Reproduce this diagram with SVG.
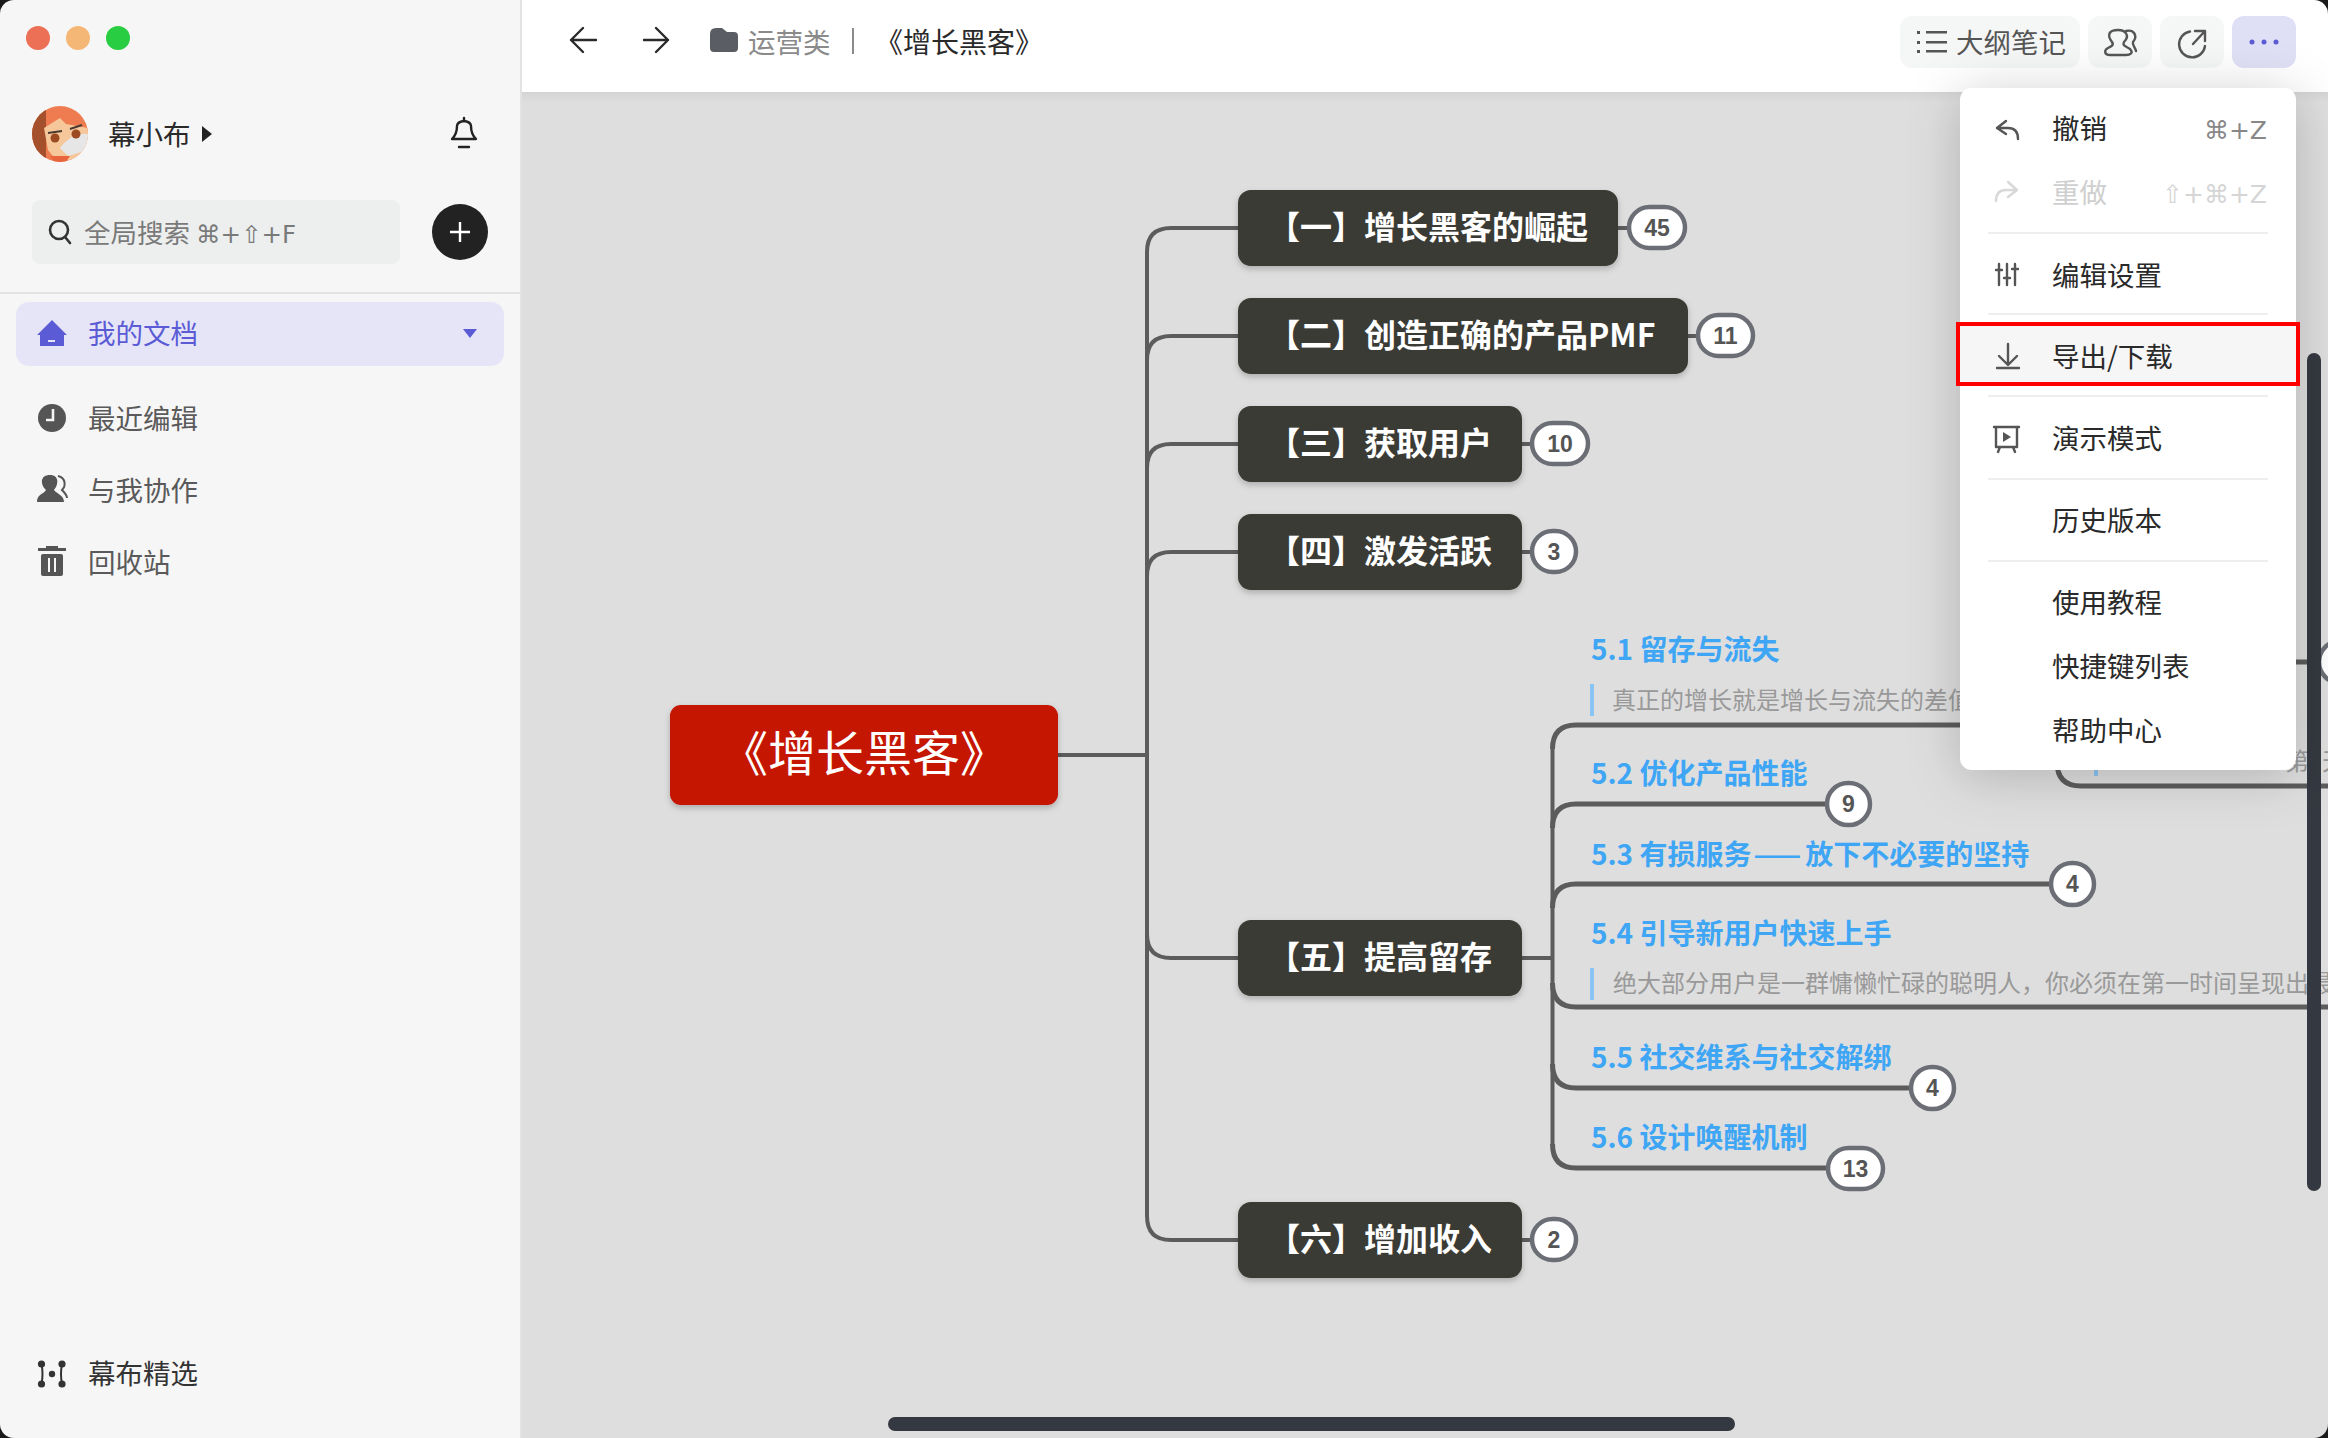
<svg xmlns="http://www.w3.org/2000/svg" width="2328" height="1438" viewBox="0 0 2328 1438">
<style>
text{font-family:"Noto Sans CJK SC","Liberation Sans",sans-serif}
.sym{font-family:"DejaVu Sans","Noto Sans CJK SC",sans-serif}
.side{font-size:27.5px;fill:#5a5a5a}
.ico{fill:#555}
.line{fill:none;stroke:#5c5c5c;stroke-width:4}
.line2{fill:none;stroke:#5c5c5c;stroke-width:5}
.node rect.box{fill:#3a3a34}
.node text.t{font-size:32px;font-weight:700;fill:#fff}
.pill{fill:#fff;stroke:#6b6e75;stroke-width:4.5}
.num{font-size:23px;font-weight:700;fill:#555;text-anchor:middle;font-family:"Liberation Sans",sans-serif}
.sub{font-size:28px;font-weight:700;fill:#3ea6f5}
.note{font-size:24px;fill:#999}
.bar{fill:#8cc4f5}
.m{font-size:27.5px;fill:#2a2a2a}
.div{fill:#eeeeee}
.btn{fill:#f5f6f6}
.thin{fill:none;stroke:#555;stroke-width:2.4;stroke-linecap:round;stroke-linejoin:round}
.sb{fill:#343840}
</style>
<defs>
<clipPath id="win"><rect width="2328" height="1438" rx="14"/></clipPath>
<clipPath id="av"><circle cx="60" cy="134" r="28"/></clipPath>
<filter id="ns" x="-10%" y="-20%" width="120%" height="150%"><feDropShadow dx="0" dy="3" stdDeviation="3" flood-color="#000" flood-opacity=".22"/></filter>
<filter id="ms" x="-30%" y="-20%" width="160%" height="150%"><feDropShadow dx="0" dy="6" stdDeviation="26" flood-color="#000" flood-opacity=".2"/></filter>
<linearGradient id="tb" x1="0" y1="0" x2="0" y2="1"><stop offset="0" stop-color="#d4d4d4"/><stop offset="1" stop-color="#dedede"/></linearGradient>
</defs>
<rect width="2328" height="1438" fill="#1a1a1a"/>
<g clip-path="url(#win)">
<rect x="521" y="92" width="1807" height="1346" fill="#dedede"/>
<rect x="521" y="92" width="1807" height="10" fill="url(#tb)"/>

<g id="connectors">
<path class="line" d="M1058 755H1147"/>
<path class="line" d="M1147 1216V252Q1147 228 1171 228H1238"/>
<path class="line" d="M1147 360Q1147 336 1171 336H1238"/>
<path class="line" d="M1147 468Q1147 444 1171 444H1238"/>
<path class="line" d="M1147 576Q1147 552 1171 552H1238"/>
<path class="line" d="M1147 934Q1147 958 1171 958H1238"/>
<path class="line" d="M1147 1216Q1147 1240 1171 1240H1238"/>
<path class="line" d="M1617 228H1630M1687 336H1699M1521 444H1533M1521 552H1533M1521 958H1552M1521 1240H1533"/>
<path class="line" d="M1552.500 1144V749"/>
<path class="line2" d="M1552.500 749Q1552.500 725 1576 725H2100"/>
<path class="line2" d="M1552.500 828Q1552.500 804 1576 804H1827"/>
<path class="line2" d="M1552.500 908Q1552.500 884 1576 884H2052"/>
<path class="line2" d="M1552.500 983Q1552.500 1007 1576 1007H2328"/>
<path class="line2" d="M1552.500 1064Q1552.500 1088 1576 1088H1912"/>
<path class="line2" d="M1552.500 1144Q1552.500 1168 1576 1168H1829"/>
<path class="line2" d="M2057 700V762Q2057 786 2081 786H2328"/>
<path class="line2" d="M2057 686Q2057 662 2081 662H2312"/>
</g>

<g id="root"><rect x="670" y="705" width="388" height="100" rx="11" fill="#c41200" filter="url(#ns)"/><text x="864" y="771" font-size="48" fill="#fff" text-anchor="middle">《增长黑客》</text></g>

<g id="n1" class="node"><rect class="box" x="1238" y="190" width="380" height="76" rx="13" filter="url(#ns)"/><text class="t" x="1268" y="239">【一】增长黑客的崛起</text></g>
<g id="n1b"><rect class="pill" x="1629" y="207" width="56" height="41" rx="20.5"/><text class="num" x="1657" y="236">45</text></g>
<g id="n2" class="node"><rect class="box" x="1238" y="298" width="450" height="76" rx="13" filter="url(#ns)"/><text class="t" x="1268" y="347">【二】创造正确的产品PMF</text></g>
<g id="n2b"><rect class="pill" x="1698" y="315" width="55" height="41" rx="20.5"/><text class="num" x="1725.500" y="344">11</text></g>
<g id="n3" class="node"><rect class="box" x="1238" y="406" width="284" height="76" rx="13" filter="url(#ns)"/><text class="t" x="1268" y="455">【三】获取用户</text></g>
<g id="n3b"><rect class="pill" x="1532" y="423" width="56" height="41" rx="20.5"/><text class="num" x="1560" y="452">10</text></g>
<g id="n4" class="node"><rect class="box" x="1238" y="514" width="284" height="76" rx="13" filter="url(#ns)"/><text class="t" x="1268" y="563">【四】激发活跃</text></g>
<g id="n4b"><rect class="pill" x="1532" y="531" width="44" height="41" rx="20.5"/><text class="num" x="1554" y="560">3</text></g>
<g id="n5" class="node"><rect class="box" x="1238" y="920" width="284" height="76" rx="13" filter="url(#ns)"/><text class="t" x="1268" y="969">【五】提高留存</text></g>
<g id="n6" class="node"><rect class="box" x="1238" y="1202" width="284" height="76" rx="13" filter="url(#ns)"/><text class="t" x="1268" y="1251">【六】增加收入</text></g>
<g id="n6b"><rect class="pill" x="1532" y="1219" width="44" height="41" rx="20.5"/><text class="num" x="1554" y="1248">2</text></g>

<g id="s51"><text class="sub" x="1591" y="660">5.1 留存与流失</text><rect class="bar" x="1590" y="684" width="4" height="32"/><text class="note" x="1612" y="709">真正的增长就是增长与流失的差值</text></g>
<g id="s51c"><rect class="bar" x="2094" y="760" width="4" height="16"/><text class="note" x="2285" y="770">第</text><text class="note" x="2322" y="770">天</text></g>
<g id="s52"><text class="sub" x="1591" y="784">5.2 优化产品性能</text><rect class="pill" x="1827" y="783" width="43" height="42" rx="21"/><text class="num" x="1848.500" y="812">9</text></g>
<g id="s53"><text class="sub" x="1591" y="865">5.3 有损服务<tspan dx="2">—</tspan><tspan dx="4">—</tspan><tspan dx="0">放下不必要的坚持</tspan></text><rect class="pill" x="2051" y="863" width="43" height="42" rx="21"/><text class="num" x="2072.500" y="892">4</text></g>
<g id="s54"><text class="sub" x="1591" y="944">5.4 引导新用户快速上手</text><rect class="bar" x="1590" y="968" width="4" height="32"/><text class="note" x="1613" y="992">绝大部分用户是一群慵懒忙碌的聪明人，你必须在第一时间呈现出最</text></g>
<g id="s55"><text class="sub" x="1591" y="1068">5.5 社交维系与社交解绑</text><rect class="pill" x="1911" y="1067" width="43" height="42" rx="21"/><text class="num" x="1932.500" y="1096">4</text></g>
<g id="s56"><text class="sub" x="1591" y="1148">5.6 设计唤醒机制</text><rect class="pill" x="1828" y="1148" width="55" height="41" rx="20.5"/><text class="num" x="1855.500" y="1177">13</text></g>
<g id="s51b"><circle cx="2340" cy="662" r="21" class="pill"/></g>

<rect x="521" y="0" width="1807" height="92" fill="#fff"/>
<g id="toolbar">
<path class="thin" style="stroke:#2a2a2a" d="M596 40H571M583 28L571 40L583 52M644 40H668M656 28L668 40L656 52"/>
<path d="M710 34Q710 28 716 28H722L727 32H734Q738 32 738 36V48Q738 52 734 52H714Q710 52 710 48Z" fill="#5a5d64"/>
<text x="748" y="53" font-size="27.5" fill="#8a8a8a">运营类</text>
<rect x="852" y="28" width="2" height="26" fill="#8a8a8a"/>
<text x="875" y="53" font-size="28" fill="#2a2a2a">《增长黑客》</text>
<rect class="btn" x="1900" y="16" width="180" height="52" rx="12"/>
<rect class="btn" x="2088" y="16" width="64" height="52" rx="12"/>
<rect class="btn" x="2160" y="16" width="64" height="52" rx="12"/>
<rect x="2232" y="16" width="64" height="52" rx="12" fill="#dfe0f5"/>
<g fill="#555"><rect x="1917" y="31" width="3" height="3"/><rect x="1917" y="41" width="3" height="3"/><rect x="1917" y="50" width="3" height="3"/><rect x="1926" y="31" width="21" height="2.500"/><rect x="1926" y="41" width="21" height="2.500"/><rect x="1926" y="50" width="21" height="2.500"/></g>
<text x="1956" y="53" font-size="27.5" fill="#555">大纲笔记</text>
<path class="thin" d="M2112 42C2106 34 2110 30 2118 30C2126 30 2130 36 2124 42C2122 46 2126 46 2130 49C2134 53 2130 55 2126 55H2110C2104 55 2104 50 2108 48C2112 46 2114 45 2112 42ZM2126 31C2134 29 2138 36 2133 42C2132 45 2135 47 2136 51"/>
<path class="thin" d="M2190 31.500A13 13 0 1 0 2205 46M2193 44L2205 31M2195 31H2205V41"/>
<circle cx="2252" cy="42" r="2.500" fill="#5b5bd6"/><circle cx="2264" cy="42" r="2.500" fill="#5b5bd6"/><circle cx="2276" cy="42" r="2.500" fill="#5b5bd6"/>
</g>

<rect class="sb" x="2307" y="353" width="14" height="838" rx="7"/>
<rect class="sb" x="888" y="1417" width="847" height="14" rx="7"/>

<g id="menu">
<rect x="1960" y="88" width="336" height="682" rx="12" fill="#fff" filter="url(#ms)"/>
<rect x="1960" y="324" width="336" height="60" fill="#f6f6f6"/>
<rect class="div" x="1988" y="232" width="280" height="2"/><rect class="div" x="1988" y="313" width="280" height="2"/><rect class="div" x="1988" y="395" width="280" height="2"/><rect class="div" x="1988" y="478" width="280" height="2"/><rect class="div" x="1988" y="560" width="280" height="2"/>
<path class="thin" d="M2006 121L1997 128L2006 134M1997 128H2008Q2018 128 2018 139"/>
<path class="thin" style="stroke:#d8d8d8" d="M2008 182L2017 190L2008 197M2017 190H2006Q1996 190 1996 201"/>
<path class="thin" d="M1999 264V285M1999 270H1996M1999 270H2002M2007 264V285M2007 278H2004M2007 278H2010M2015 264V285M2015 269H2012M2015 269H2018"/>
<path class="thin" d="M2008 344V364M1999 356L2008 365L2017 356M1997 368H2019"/>
<path class="thin" d="M1994 427H2019M1996 427V447H2017V427M2000 447L1998 452M2013 447L2015 452"/><path d="M2003 432L2011 437L2003 442Z" fill="#555"/>
<text class="m" x="2052" y="139">撤销</text><text class="m" style="fill:#cfcfcf" x="2052" y="203">重做</text><text class="m" x="2052" y="286">编辑设置</text><text class="m" x="2052" y="367">导出/下载</text><text class="m" x="2052" y="449">演示模式</text><text class="m" x="2052" y="531">历史版本</text><text class="m" x="2052" y="613">使用教程</text><text class="m" x="2052" y="677">快捷键列表</text><text class="m" x="2052" y="741">帮助中心</text>
<text class="sym" x="2267" y="139" font-size="25" fill="#888" text-anchor="end">⌘+Z</text>
<text class="sym" x="2267" y="203" font-size="25" fill="#d5d5d5" text-anchor="end">⇧+⌘+Z</text>
<rect x="1958" y="324" width="340" height="60" fill="none" stroke="#f00" stroke-width="4"/>
</g>

<g id="sidebar">
<rect x="0" y="0" width="521" height="1438" fill="#f6f6f6"/>
<rect x="520" y="0" width="2" height="1438" fill="#e2e2e2"/>
<circle cx="38" cy="38" r="12" fill="#ec7055"/><circle cx="78" cy="38" r="12" fill="#f5b776"/><circle cx="118" cy="38" r="12" fill="#28cd41"/>
<g clip-path="url(#av)"><rect x="32" y="106" width="56" height="56" fill="#ef7c50"/><rect x="32" y="106" width="14" height="56" fill="#a5502c"/><path d="M44 128L60 118L66 124L88 128V152L70 160H56L48 150Z" fill="#f6c79a"/><path d="M60 148Q72 132 88 134V150L68 156Z" fill="#e6e6e6"/><path d="M48 133L62 131M70 129L82 125" stroke="#4a3a30" stroke-width="2"/><circle cx="55" cy="138" r="4.500" fill="#9c4a22"/><circle cx="76" cy="134" r="4.500" fill="#9c4a22"/><path d="M50 156H70L66 162H54Z" fill="#e8643c"/></g>
<text x="108" y="145" font-size="27.500" fill="#2a2a2a">幕小布</text>
<path d="M202 126L212 134L202 142Z" fill="#222"/>
<path class="thin" style="stroke:#222" d="M452 139Q457 134 457 126Q457 122 464 121Q471 122 471 126Q471 134 476 139ZM464 118V121M459 147H469"/>
<rect x="32" y="200" width="368" height="64" rx="8" fill="#edefef"/>
<circle cx="59" cy="230" r="9" fill="none" stroke="#333" stroke-width="2.600"/><path d="M65 237L70 243" stroke="#333" stroke-width="2.600" stroke-linecap="round"/>
<text x="84" y="243" font-size="26.500" fill="#7a7a7a">全局搜索 <tspan class="sym" font-size="24.500">⌘+⇧+F</tspan></text>
<circle cx="460" cy="232" r="28" fill="#222"/><path d="M450 232H470M460 222V242" stroke="#fff" stroke-width="2.400"/>
<rect x="0" y="292" width="521" height="2" fill="#e4e4e4"/>
<rect x="16" y="302" width="488" height="64" rx="13" fill="#e6e5f7"/>
<path d="M37 335L52 320L67 335H64V346H40V335Z" fill="#5b5bd6"/><rect x="48" y="340" width="7" height="2" fill="#e6e5f7"/>
<text x="88" y="344" font-size="27.500" fill="#5b5bd6">我的文档</text>
<path d="M463 329H477L470 338Z" fill="#5b5bd6"/>
<circle cx="52" cy="418" r="14" class="ico"/><path d="M53 409V420H46" fill="none" stroke="#f6f6f6" stroke-width="2.600"/>
<text class="side" x="88" y="429">最近编辑</text>
<path class="ico" d="M37 502C37 494 44 494 46 490C40 484 40 475 50 475C59 475 59 484 54 490C57 494 64 495 64 502Z"/><path d="M58 476C66 478 66 486 62 490C64 492 67 495 67 498" fill="none" stroke="#555" stroke-width="2"/>
<text class="side" x="88" y="501">与我协作</text>
<rect class="ico" x="38" y="548" width="28" height="3"/><rect class="ico" x="46" y="546" width="12" height="2"/><rect class="ico" x="41" y="554" width="22" height="22" rx="2"/><path d="M49 558V572M55 558V572" stroke="#f6f6f6" stroke-width="2"/>
<text class="side" x="88" y="573">回收站</text>
<g fill="#333"><circle cx="41.500" cy="1364" r="3.600"/><circle cx="41.500" cy="1384" r="3.600"/><circle cx="62" cy="1364" r="3.600"/><circle cx="62" cy="1384" r="3.600"/><circle cx="52" cy="1374" r="3.200"/></g>
<path d="M41.500 1364Q43.500 1374 41.500 1384M62 1364Q60 1374 62 1384" fill="none" stroke="#333" stroke-width="2"/>
<text x="88" y="1384" font-size="27.500" fill="#333">幕布精选</text>
</g>
</g>
</svg>
